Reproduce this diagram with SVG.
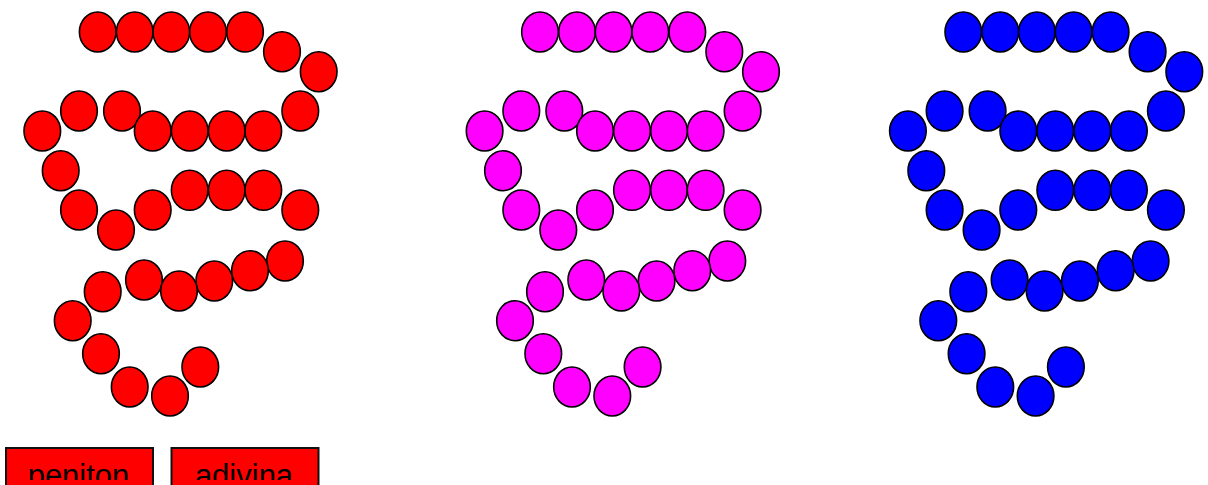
<svg xmlns="http://www.w3.org/2000/svg" xmlns:xlink="http://www.w3.org/1999/xlink" width="1208" height="485" viewBox="0 0 1208 485">
<style>
.b{stroke:#000;stroke-width:1.6}
.btn{fill:#f00;stroke:#111;stroke-width:2}
.lbl{font-family:"Liberation Sans",Arial,sans-serif;font-size:31px;fill:#000;text-anchor:middle}
</style>
<defs>
<clipPath id="txtclip"><rect x="0" y="440" width="400" height="40"/></clipPath>
<g id="chain">
<ellipse cx="97.7" cy="32" rx="18.3" ry="20"/>
<ellipse cx="134.7" cy="32" rx="18.3" ry="20"/>
<ellipse cx="171.3" cy="32" rx="18.3" ry="20"/>
<ellipse cx="208" cy="32" rx="18.3" ry="20"/>
<ellipse cx="245" cy="32" rx="18.3" ry="20"/>
<ellipse cx="282" cy="51.7" rx="18.3" ry="20"/>
<ellipse cx="318.7" cy="71.7" rx="18.3" ry="20"/>
<ellipse cx="300.3" cy="111" rx="18.3" ry="20"/>
<ellipse cx="122" cy="111" rx="18.3" ry="20"/>
<ellipse cx="263.3" cy="131" rx="18.3" ry="20"/>
<ellipse cx="226.7" cy="131" rx="18.3" ry="20"/>
<ellipse cx="189.7" cy="131" rx="18.3" ry="20"/>
<ellipse cx="152.7" cy="131" rx="18.3" ry="20"/>
<ellipse cx="79" cy="111" rx="18.3" ry="20"/>
<ellipse cx="42.3" cy="131" rx="18.3" ry="20"/>
<ellipse cx="60.7" cy="170.7" rx="18.3" ry="20"/>
<ellipse cx="79" cy="210" rx="18.3" ry="20"/>
<ellipse cx="116" cy="230" rx="18.3" ry="20"/>
<ellipse cx="152.7" cy="210" rx="18.3" ry="20"/>
<ellipse cx="189.7" cy="190.3" rx="18.3" ry="20"/>
<ellipse cx="226.7" cy="190.3" rx="18.3" ry="20"/>
<ellipse cx="263.3" cy="190.3" rx="18.3" ry="20"/>
<ellipse cx="300.3" cy="210" rx="18.3" ry="20"/>
<ellipse cx="285" cy="261" rx="18.3" ry="20"/>
<ellipse cx="250" cy="270.7" rx="18.3" ry="20"/>
<ellipse cx="214.3" cy="281" rx="18.3" ry="20"/>
<ellipse cx="144" cy="280" rx="18.3" ry="20"/>
<ellipse cx="179" cy="291" rx="18.3" ry="20"/>
<ellipse cx="102.7" cy="291.7" rx="18.3" ry="20"/>
<ellipse cx="72.7" cy="320.7" rx="18.3" ry="20"/>
<ellipse cx="101" cy="353.7" rx="18.3" ry="20"/>
<ellipse cx="129.7" cy="387" rx="18.3" ry="20"/>
<ellipse cx="170" cy="396" rx="18.3" ry="20"/>
<ellipse cx="200.3" cy="367" rx="18.3" ry="20"/>
</g>
</defs>
<rect width="1208" height="485" fill="#fff"/>
<g id="chain-red" class="b" fill="#f00"><use xlink:href="#chain" href="#chain"/></g>
<g id="chain-magenta" class="b" fill="#f0f" transform="translate(442.3,0)"><use xlink:href="#chain" href="#chain"/></g>
<g id="chain-blue" class="b" fill="#00f" transform="translate(865.6,0)"><use xlink:href="#chain" href="#chain"/></g>
<g id="btn-peniton">
<rect class="btn" x="6" y="448" width="147" height="45"/>
<text class="lbl" x="78.5" y="486" clip-path="url(#txtclip)">peniton</text>
</g>
<g id="btn-adivina">
<rect class="btn" x="171.5" y="448" width="147" height="45"/>
<text class="lbl" x="244" y="486" clip-path="url(#txtclip)">adivina</text>
</g>
<g id="connectors"/>
</svg>
